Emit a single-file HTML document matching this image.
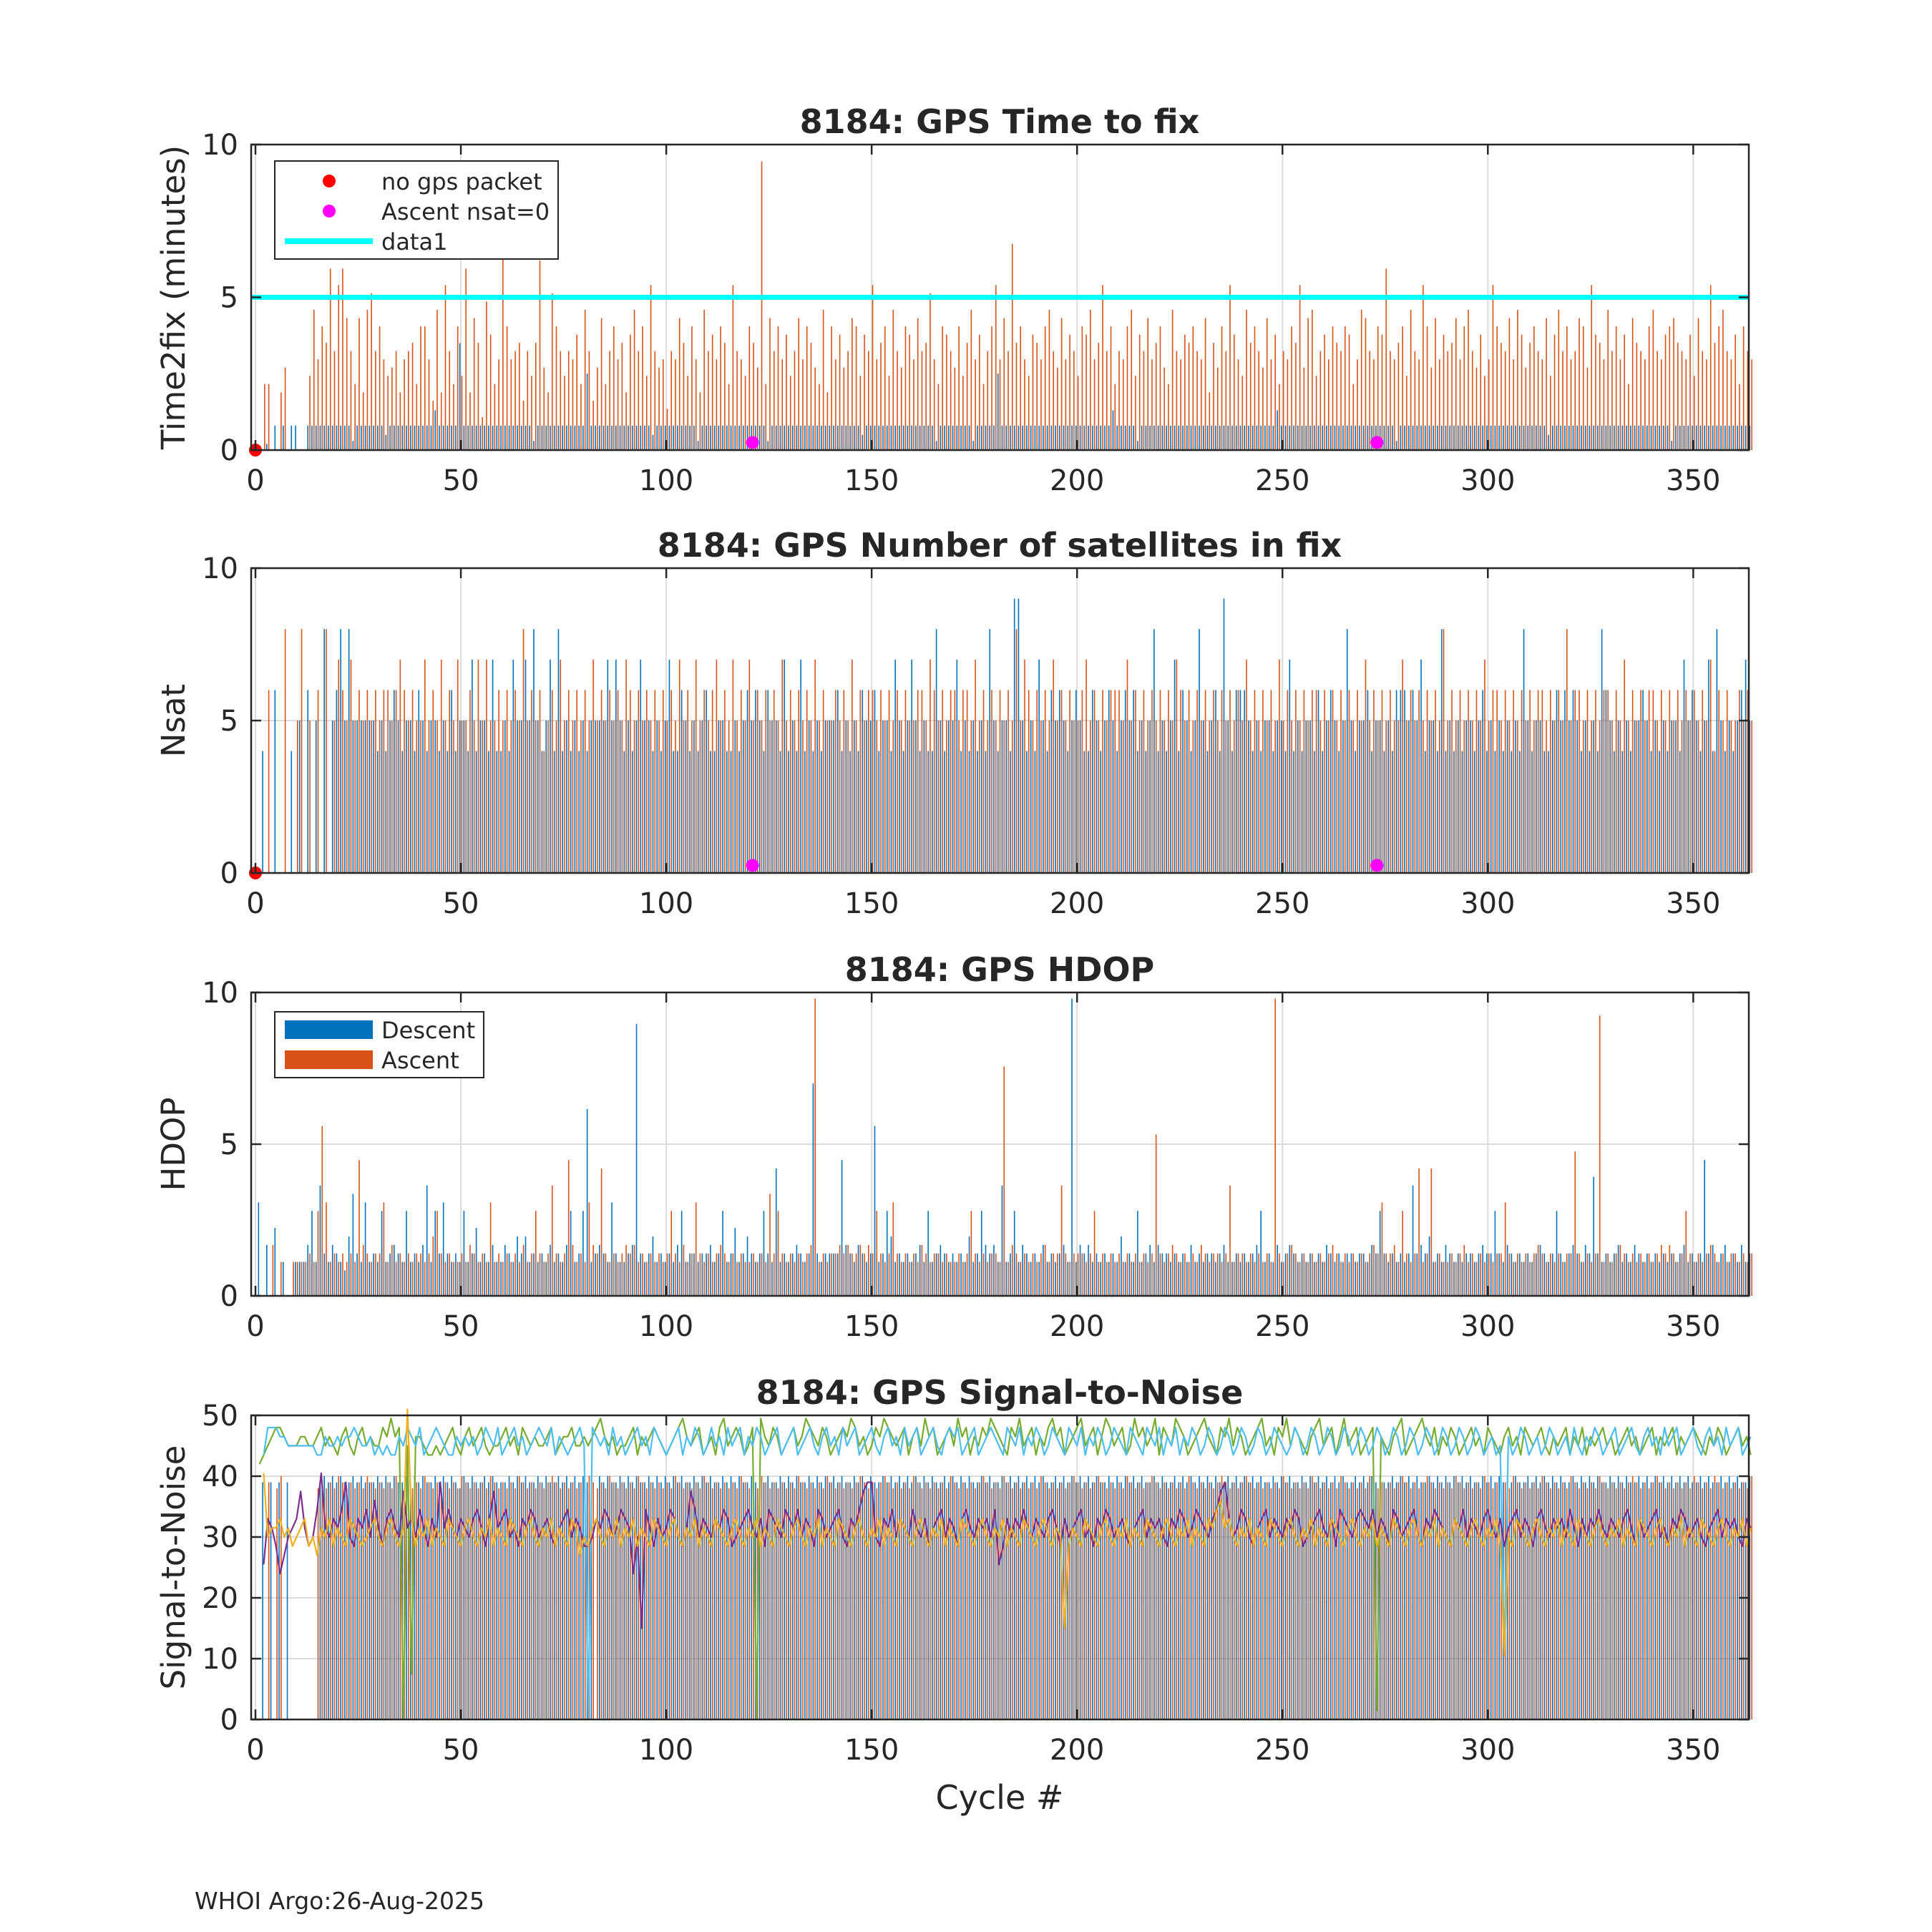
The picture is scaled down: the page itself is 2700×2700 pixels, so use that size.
<!DOCTYPE html>
<html><head><meta charset="utf-8"><title>8184 GPS</title>
<style>html,body{margin:0;padding:0;background:#fff}svg{display:block}text{font-family:"DejaVu Sans","Liberation Sans",sans-serif;fill:#262626}</style>
</head><body>
<svg id="chart" xmlns="http://www.w3.org/2000/svg" width="2700" height="2700" viewBox="0 0 2700 2700">
<rect x="0" y="0" width="2700" height="2700" fill="#fff"/>
</svg>
<script>
const N = 365;
function dec36(s, k){ return s.replace(/\s/g,'').split('').slice(0,N).map(c => c==='.' ? null : parseInt(c,36)*k); }
const xTicks = [0,50,100,150,200,250,300,350];
const yTicks10 = [0,5,10];
const yTicks50 = [0,10,20,30,40,50];
const titles = ["8184: GPS Time to fix","8184: GPS Number of satellites in fix","8184: GPS HDOP","8184: GPS Signal-to-Noise"];
const yLabels = ["Time2fix (minutes)","Nsat","HDOP","Signal-to-Noise"];
const threshold = [5];
const noPacketCycles = [0];
const nsatZeroCycles = [121,273];
const t2fDesc = dec36("0002080808 8008888888 8888388888 8858888888 8888d88888 z888888888 8888888838 8888888888 8p88888888 8888888588 8888888838 8888888888 8888838888 8888888888 8888888858 8888888888 8888883888 8888838888 8p88888888 8888888888 888888888d 8888838888 8888888888 8888888888 888888888d 8888888888 8888888888 8888888838 8888888888 8888888888 8888888888 8888858888 8888888888 8888888888 8888838888 8888888888 8888888888", 0.1);
const t2fAsc = dec36("0088007a00 0009hbfdmc kmgc8g7hjc fb9ac7bcd8 ffb6h7kc8f 9m7gd4ie8b pfbcd6c9dn a7jfc9cbe8 hc6ag8cfbd 7ehcf9kcab 5cbgd9fb7h cebfd8kcb9 fdaz8gcfbe 9cgbfda8h7 fbeacgf9ec kbdf9hcafe bgcdjb8fec af9dhbe8cf kbgcpdfb9e dbfhcagbec 9fehbdkcf8 cbfh9ecgbd fa8hcbedfc bg7dafckeb 9hdfcagbe8 cbfdkagh9c ebfdcfe8bh gcbfemcbdf 9hcbkfagbe cdgbfhcae9 bkfdcgbhea dfcbg9ehcf bcgfakedbh cfbe8gdcbf hcbefgdcbe 9gcbkdfhcb e8fcbdgfce", 0.27);
const nsatDesc = dec36("0040060004 0506050805 6858555555 4545654554 6545545464 5547455474 4547557585 4574845454 5455557575 4545755454 5744654545 6445544545 6565465547 4547454545 5564545465 5645547545 7545448545 5745454548 5455499545 4754656545 6544654565 4565645458 4545746545 8545649546 6654545545 5474545546 4565458545 5645545466 6565745548 4545455456 4545454548 5455445656 5654545486 5454545565 4545455475 6545748545 4567545457", 1);
const nsatAsc = dec36("0006000800 5805060805 7657565656 5665676565 5756575657 5565757556 5656585656 4565756565 6575656565 7656565656 5657565756 5675657565 7565656575 6565657565 5656575656 6565656565 5665765656 6566575656 5656585765 6565756565 5675656566 6575656565 6565765656 5656565656 5756565657 5656565665 6565656565 7565656557 5656565658 5656565657 5665656565 6566565658 5665656566 5657565656 6565656565 6565746565 5656565655", 1);
const hdopDesc = dec36("0b06080400 4446a4d546 5437c54b45 4a45654a45 46d4a5b545 4a45845464 4654757454 5464546a45 am45654b54 456w545745 4546a45545 5645a45845 7545a54f45 456545p545 555g654654 5k45a74545 4564a45654 5454745a65 64d45a4654 546454564z 4656454545 47454a4564 6554545464 5455456445 45456a4546 4565454545 4654545545 5465a54545 45d5657454 6545455456 55a5465454 5456545a54 565465e545 4564546545 4545454564 545g564564 5464545454", 0.28);
const hdopAsc = dec36("0000604004 44454akb45 45454g6545 5b46454545 5457a54544 5465454b45 45454645a5 45d545g645 4b65f54545 6564545454 5a54645b54 5456545454 45454c5a54 545456z454 5565655656 5a545b5454 5465455454 4545a54545 54r4654545 456455d545 5545a45454 545454545j 5456545454 6545545d45 54545454z5 4565454545 4565454545 4565b5564a 545f45f454 4545645454 5455b54545 4565454545 5h54545x45 4565454545 45656545a5 4545654545 5454545454", 0.28);
const snrDesc = dec36("0090909090 0000009a9a 9a99a9a999 a9a9a99a9a 9a99a9a9a9 8a9a99a9a9 99a9a9a99a 9a99a9a9a9 a9a0a9a99a 9a9a99a9a9 a9a9a99a9a 9a99a9a9a9 9a9a9a99a9 a9a99a9a9a 9a9a99a9a9 a99a9a9a9a 9a9a9a99a9 a9a9a99a9a 99a9a9a9a9 a9a99a9a9a 9a9a9a99a9 a9a9a9a99a 9a99a9a9a9 a9a9a99a9a 9a9a9a99a9 a9a99a9a9a 9a9a9a99a9 a9a9a99a9a 9a9a99a9a9 a9a9a9a99a 9a9a9a9a99 a9a9a9a9a9 9a9a9a9a99 a9a9a99a9a 9a9a9a9a9a 99a9a99a9a 9a99a9a99a", 1).map(v => v ? 30+v : 0);
const snrAsc = dec36("000908a000 0000089898 a989898a98 9898a98989 8a98989898 a989898a98 9898a98989 89a9898989 8a9898a989 898a989898 98a989898a 98989898a9 898a989898 98a989898a 9898989a98 989a989898 a98989898a 9898989a98 98a9898989 8a9898989a 98989a9898 98a98989a9 8989898a98 98989a9898 9a98989898 a989898a98 9898a98989 8a9898989a 98989a9898 98a989898a 989898a989 898a989898 a989898a98 98989a9898 9a98989898 a9898a9898 9898a98989", 1).map(v => v ? 30+v : 0);
const snrGreen = dec36(".stuvwwvuu uvvuuvwuvu tvwutvwuvu uwvxvw0u5v vuttutuvwu tvwuvwutuu vwuvtwvuvu uvwtuvvwuu vuvwxvuvtu uvwtvuvwvu tuvwxvuvwt uvtwxuvwvt uw0xvuwvtu vwuvxwvuwv tuvwvxwuvt uwvxwvuvwt vwuxvwtuvw uxvwtvuwvx wvutwvxuvw tvuwxvwtuv wxuvwtvxwu vwtuxvwuvx twvuxwvtuv wxvutwvxuw vtuvwxuvtw vxuwvutvwx uvwtvxuvwt uvw1vutvwx tuvwxvuwtv uwvtuvwuvt wvutvwuvtw vuvwutvuvw tvuwtvuvwu vtuvwuvtuv wtvuvwtvuv wvutvuwvtu vwuvtuvwuv", 1.5);
const snrLBlue = dec36("..twwwvvuu uuuuuttvuu vuvvwvuuvt ututtvuwvu wtuvwvuttv uvuvtuwvuw tuvwuvtuvw vuwtvutuvw u0wvuvtwuv tuvwuvtwvu tuvwtvuwvt uwuvtwuvwt vuwvtuvwtu vwtuvwutvw uvtwuvwtuv wutvwuvtwu vwtuvwutvw vwtuvwtuvw vutwvuwtvu wvtuwvutwv uwtvuwvtuw vutwvutwvu wtvuwtvuwv tuwvtuwvtu wvtuwvtuwv utuwvtuwvt uwvtuwvtuw vtuwvtuwvt uwvtuwvtuw vtuwvtuwvt uvtu7vtuwv tuvtuwvtuv twutvuwvtu vwtuvwutvw uvtwuvwtuv wutvwuvtwu vwtuvwutvw", 1.5);
const snrPurple = dec36("..hmljgikl mpljknrlkm lnqkjmlnko ljmnlkplmk nljmkqlnlk mlkmnljmpl mnkljmlnmk lmkjlmnkml jjkmlnmkln mlgkanljmk lnmkjlpnkm lkmlnmjklm nlkmjnmlkn mlnkmljnmk lmnkjmlnpq qkjmlnkmlk nlkmjlmnkm ljmnlkmlmk nhjmkmlnlk mlkmnljmkl mnkljmlnmk lmkjlmnkml mkjmlnmkln mlkmnpqmkl nmkjlmnkml kmlnmjklmn lkmjnmlkmn mlnkmljnmk lmnkjmlnml kjmlnkmlkm nlkmjlmnkm ljmnlkmlmk nljmkmlnlk mlkmnljmkl mnkljmlnmk lmkjlmnkml mkjmlnmkln", 1.5);
const snrYellow = dec36("..rkllmklj klmjkilkmj lkjmlkjklm kjlmkjlzmj lkmjlkjmlk jlmkjlkmjl kjmlkjlmkj lkmjlkjmli kjlmkjlkmj lkmjlkjmlk jlmkjlkmjl kjmlkjlmkj lkmjlkjmlk jlmkjlkmjl kjmlkjlmkj lkmjlkjmlk jlmkjlkmjl kjmlkjlmkj lkmjlkjmlk jlmkjlkajl kjmlkjlmkj lkmjlkjmlk jlmkjlkmjl kjmlnolmkj lkmjlkjmlk jlmkjlkmjl kjmlkjlmkj lkmjlkjmlk jlmkjlkmjl kjmlkjlmkj lkmj7kjmlk jlmkjlkmjl kjmlkjlmkj lkmjlkjmlk jlmkjlkmjl kjmlkjlmkj lkmjlkjmlk", 1.5);

const svg = document.getElementById('chart');
const NS = 'http://www.w3.org/2000/svg';
function mk(tag, attrs, parent){ const e = document.createElementNS(NS, tag); for (const k in attrs) e.setAttribute(k, attrs[k]); (parent||svg).appendChild(e); return e; }
const XL = 351, XR = 2444, X0 = 357, XS = 5.741;
function xs(v){ return X0 + XS*v; }
const panels = [
  {top:202, bottom:629, ymax:10, ticks:yTicks10},
  {top:794, bottom:1220, ymax:10, ticks:yTicks10},
  {top:1387, bottom:1811, ymax:10, ticks:yTicks10},
  {top:1978, bottom:2403, ymax:50, ticks:yTicks50}
];
const BLUE = '#0072BD', ORANGE = '#D95319';

panels.forEach((p, pi) => {
  const ys = v => p.bottom - (p.bottom - p.top) * v / p.ymax;
  p.ys = ys;
  const g = mk('g', {});
  
  
  mk('rect', {x:XL, y:p.top, width:XR-XL, height:p.bottom-p.top, fill:'#fff'}, g);
  xTicks.forEach(t => {
    const l = mk('line', {x1:xs(t), x2:xs(t), y1:p.top, y2:p.bottom, stroke:'#dcdcdc', 'stroke-width':2}, g);
    
    
  });
  p.ticks.forEach(t => {
    const l = mk('line', {x1:XL, x2:XR, y1:ys(t), y2:ys(t), stroke:'#dcdcdc', 'stroke-width':2}, g);
    
    
  });
  p.g = g;
});

function bars(panel, arr, color, off, name){
  const p = panels[panel];
  const bg = mk('g', {fill: color}, p.g);
  
  
  arr.forEach((v, i) => {
    if (!v) return;
    const vv = Math.min(v, p.ymax);
    const r = mk('rect', {x: xs(i)+off-0.8, y: p.ys(vv), width: 1.6, height: p.bottom - p.ys(vv)}, bg);
    
    
  });
}
function line(panel, arr, color, name){
  const p = panels[panel];
  let d = '', pen = false;
  arr.forEach((v, i) => {
    if (v === null || isNaN(v)) { pen = false; return; }
    const vv = Math.min(v, p.ymax + 1);
    d += (pen ? 'L' : 'M') + xs(i).toFixed(1) + ' ' + p.ys(vv).toFixed(1);
    pen = true;
  });
  const el = mk('path', {d: d, fill:'none', stroke: color, 'stroke-width': 2.2, 'stroke-linejoin':'round'}, p.g);
  
  
}

bars(0, t2fDesc, BLUE, -1.4, 'time2fix-descent');
bars(0, t2fAsc, ORANGE, 1.4, 'time2fix-ascent');
bars(1, nsatDesc, BLUE, -1.4, 'nsat-descent');
bars(1, nsatAsc, ORANGE, 1.4, 'nsat-ascent');
bars(2, hdopDesc, BLUE, -1.4, 'hdop-descent');
bars(2, hdopAsc, ORANGE, 1.4, 'hdop-ascent');
bars(3, snrDesc, BLUE, -1.4, 'snr-descent');
bars(3, snrAsc, ORANGE, 1.4, 'snr-ascent');
line(3, snrGreen, '#77AC30', 'snr-line-green');
line(3, snrLBlue, '#4DBEEE', 'snr-line-lightblue');
line(3, snrPurple, '#7E2F8E', 'snr-line-purple');
line(3, snrYellow, '#EDB120', 'snr-line-yellow');

threshold.forEach(t => {
  const l = mk('line', {x1:XL, x2:XR, y1:panels[0].ys(t), y2:panels[0].ys(t), stroke:'#00FFFF', 'stroke-width':7}, panels[0].g);
  
  
});
[0,1].forEach(pi => {
  noPacketCycles.forEach(c => {
    const m = mk('circle', {cx:xs(c), cy:panels[pi].ys(0), r:9, fill:'#FF0000'}, panels[pi].g);
    
    
  });
  nsatZeroCycles.forEach(c => {
    const m = mk('circle', {cx:xs(c), cy:panels[pi].ys(0.25), r:9, fill:'#FF00FF'}, panels[pi].g);
    
    
  });
});

panels.forEach((p, pi) => {
  const g = p.g;
  const ys = p.ys;
  xTicks.forEach(t => {
    mk('line', {x1:xs(t), x2:xs(t), y1:p.bottom, y2:p.bottom-14, stroke:'#262626', 'stroke-width':2.5}, g);
    mk('line', {x1:xs(t), x2:xs(t), y1:p.top, y2:p.top+14, stroke:'#262626', 'stroke-width':2.5}, g);
    const tx = mk('text', {x:xs(t), y:p.bottom+56, 'font-size':40, 'text-anchor':'middle'}, g);
    tx.textContent = t;
    
    
  });
  p.ticks.forEach(t => {
    mk('line', {x1:XL, x2:XL+14, y1:ys(t), y2:ys(t), stroke:'#262626', 'stroke-width':2.5}, g);
    mk('line', {x1:XR, x2:XR-14, y1:ys(t), y2:ys(t), stroke:'#262626', 'stroke-width':2.5}, g);
    const tx = mk('text', {x:XL-18, y:ys(t)+14, 'font-size':40, 'text-anchor':'end'}, g);
    tx.textContent = t;
    
    
  });
  const box = mk('rect', {x:XL, y:p.top, width:XR-XL, height:p.bottom-p.top, fill:'none', stroke:'#262626', 'stroke-width':2.5}, g);
  
  
  const ti = mk('text', {x:1397, y:p.top-16, 'font-size':46, 'font-weight':'bold', 'text-anchor':'middle', fill:'#000'}, g);
  ti.textContent = titles[pi];
  
  
  const cy = (p.top + p.bottom)/2;
  const yl = mk('text', {x:0, y:0, 'font-size':45, 'text-anchor':'middle', transform:'translate(258 ' + cy + ') rotate(-90)'}, g);
  yl.textContent = yLabels[pi];
  
  
});

(function(){
  const lg = mk('g', {});
  
  
  mk('rect', {x:384, y:225, width:396, height:137, fill:'#fff', stroke:'#262626', 'stroke-width':2}, lg);
  mk('circle', {cx:460, cy:253, r:9, fill:'#FF0000'}, lg);
  mk('circle', {cx:460, cy:295, r:9, fill:'#FF00FF'}, lg);
  mk('line', {x1:398, x2:521, y1:337, y2:337, stroke:'#00FFFF', 'stroke-width':8}, lg);
  [['no gps packet',265],['Ascent nsat=0',307],['data1',349]].forEach(e => {
    const t = mk('text', {x:533, y:e[1], 'font-size':32, fill:'#000'}, lg);
    t.textContent = e[0];
    
    
  });
})();
(function(){
  const lg = mk('g', {});
  
  
  mk('rect', {x:384, y:1414, width:292, height:92, fill:'#fff', stroke:'#262626', 'stroke-width':2}, lg);
  mk('rect', {x:398, y:1426, width:123, height:26, fill:BLUE}, lg);
  mk('rect', {x:398, y:1468, width:123, height:26, fill:ORANGE}, lg);
  [['Descent',1451],['Ascent',1493]].forEach(e => {
    const t = mk('text', {x:533, y:e[1], 'font-size':32, fill:'#000'}, lg);
    t.textContent = e[0];
    
    
  });
})();

const xl = mk('text', {x:1397, y:2528, 'font-size':46, 'text-anchor':'middle'});
xl.textContent = 'Cycle #';


const ft = mk('text', {x:272, y:2668, 'font-size':33, fill:'#000'});
ft.textContent = 'WHOI Argo:26-Aug-2025';


</script>
</body></html>
